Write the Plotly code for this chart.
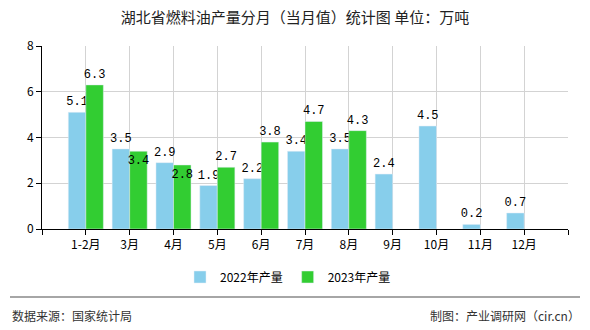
import plotly.graph_objects as go

categories = ["1-2月", "3月", "4月", "5月", "6月", "7月", "8月", "9月", "10月", "11月", "12月"]
values_2022 = [5.1, 3.5, 2.9, 1.9, 2.2, 3.4, 3.5, 2.4, 4.5, 0.2, 0.7]
values_2023 = [6.3, 3.4, 2.8, 2.7, 3.8, 4.7, 4.3]
label_pos_2023 = ["outside", "inside", "inside", "outside", "outside", "outside", "outside"]
series_names = ["2022年产量", "2023年产量"]

x_pos = list(range(1, len(categories) + 1))
lab_font = dict(family="Liberation Mono, DejaVu Sans Mono, monospace", size=12, color="#000")

fig = go.Figure()
fig.add_trace(go.Bar(
    x=x_pos, y=values_2022, name=series_names[0], marker_color="#87CEEB",
    text=[f"{v:.1f}" for v in values_2022], textposition="outside", textangle=0,
    textfont=lab_font, constraintext="none", cliponaxis=False,
))
fig.add_trace(go.Bar(
    x=x_pos[:len(values_2023)], y=values_2023, name=series_names[1], marker_color="#32CD32",
    text=[f"{v:.1f}" for v in values_2023], textposition=label_pos_2023, textangle=0,
    insidetextanchor="end", textfont=lab_font, insidetextfont=lab_font,
    outsidetextfont=lab_font, constraintext="none", cliponaxis=False,
))

tick_font = dict(family="Noto Sans CJK SC, sans-serif", size=12, color="#000")
fig.update_layout(
    width=590, height=330,
    margin=dict(l=42, r=22, t=46, b=101),
    paper_bgcolor="white", plot_bgcolor="white",
    barmode="group", bargap=0.2, bargroupgap=0,
    title=dict(text="湖北省燃料油产量分月（当月值）统计图 单位：万吨",
               x=0.5, xanchor="center", y=0.945, yanchor="middle",
               font=dict(family="Noto Sans CJK SC, sans-serif", size=15, color="#222")),
    xaxis=dict(
        range=[0, len(categories) + 1],
        tickvals=list(range(0, len(categories) + 2)),
        ticktext=[""] + categories + [""],
        showgrid=True, gridcolor="#d3d3d3", gridwidth=1,
        showline=True, linecolor="#000", linewidth=1,
        ticks="outside", ticklen=5, tickcolor="#000",
        tickfont=tick_font, zeroline=False,
    ),
    yaxis=dict(
        range=[0, 8], dtick=2,
        showgrid=True, gridcolor="#d3d3d3", gridwidth=1,
        showline=True, linecolor="#000", linewidth=1,
        ticks="outside", ticklen=5, tickcolor="#000",
        tickfont=tick_font, zeroline=False,
    ),
    legend=dict(orientation="h", x=(288-42)/526, xanchor="center", y=-(277-229)/183, yanchor="middle",
                font=dict(family="Noto Sans CJK SC, sans-serif", size=12, color="#000"),
                traceorder="normal", itemwidth=30),
    showlegend=True,
)

fig.add_shape(type="line", xref="paper", yref="paper",
              x0=-32/526, x1=(580-42)/526, y0=-(297-229)/183, y1=-(297-229)/183,
              line=dict(color="#888", width=1.5))
foot_font = dict(family="Noto Sans CJK SC, sans-serif", size=12, color="#333")
fig.add_annotation(text="数据来源：国家统计局", xref="paper", yref="paper",
                   x=-32/526, y=-(315-229)/183, xanchor="left", yanchor="middle",
                   showarrow=False, font=foot_font)
fig.add_annotation(text="制图：产业调研网（cir.cn）", xref="paper", yref="paper",
                   x=(582-42)/526, y=-(315-229)/183, xanchor="right", yanchor="middle",
                   showarrow=False, font=foot_font)

fig.write_html("out.html")
